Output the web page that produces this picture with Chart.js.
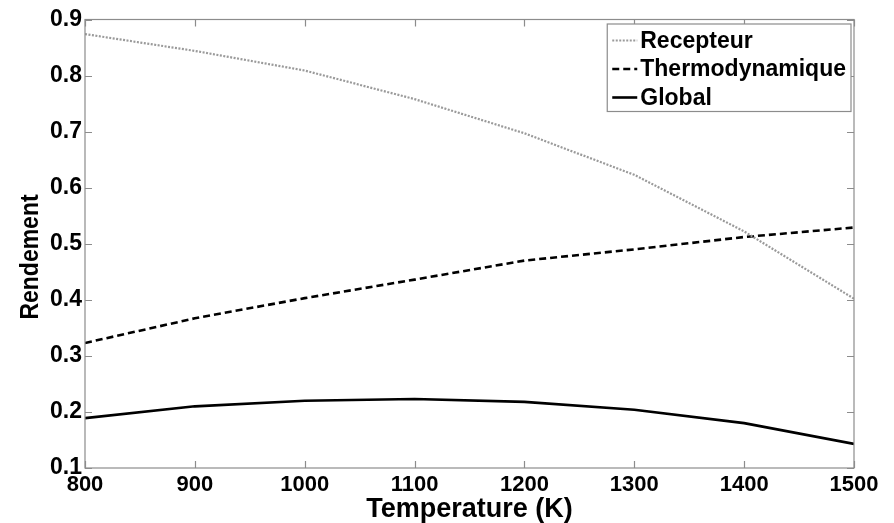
<!DOCTYPE html>
<html><head><meta charset="utf-8">
<script src="https://cdn.jsdelivr.net/npm/chart.js@4.4.0/dist/chart.umd.min.js"></script>
<style>html,body{margin:0;padding:0;background:#fff;} canvas{display:block;}</style>
</head><body>
<canvas id="c" width="894" height="523"></canvas>
<script>
// ---- data ----
const temperatures = [800, 900, 1000, 1100, 1200, 1300, 1400, 1500];
const recepteur = [0.874, 0.844, 0.809, 0.758, 0.697, 0.623, 0.522, 0.402];
const thermodynamique = [0.323, 0.367, 0.403, 0.436, 0.470, 0.490, 0.512, 0.529];
const globalEff = [0.189, 0.210, 0.220, 0.223, 0.218, 0.204, 0.180, 0.143];
const seriesLabels = ['Recepteur', 'Thermodynamique', 'Global'];
const xTickValues = [800, 900, 1000, 1100, 1200, 1300, 1400, 1500];
const yTickValues = [0.1, 0.2, 0.3, 0.4, 0.5, 0.6, 0.7, 0.8, 0.9];
const xTitle = 'Temperature (K)';
const yTitle = 'Rendement';

const toPts = arr => temperatures.map((t, i) => ({x: t, y: arr[i]}));
const FONT = 'Arial, "Liberation Sans", sans-serif';
const AXIS_GRAY = '#8c8c8c';

const frameAndTicks = {
  id: 'frameAndTicks',
  afterDatasetsDraw(chart) {
    const {ctx, chartArea: a, scales} = chart;
    ctx.save();
    ctx.strokeStyle = AXIS_GRAY;
    ctx.lineWidth = 1.2;
    ctx.strokeRect(a.left, a.top, a.right - a.left, a.bottom - a.top);
    const L = 7;
    ctx.beginPath();
    xTickValues.forEach(v => {
      const px = Math.round(scales.x.getPixelForValue(v)) + 0.5;
      ctx.moveTo(px, a.bottom); ctx.lineTo(px, a.bottom - L);
      ctx.moveTo(px, a.top); ctx.lineTo(px, a.top + L);
    });
    yTickValues.forEach(v => {
      const py = Math.round(scales.y.getPixelForValue(v)) + 0.5;
      ctx.moveTo(a.left, py); ctx.lineTo(a.left + L, py);
      ctx.moveTo(a.right, py); ctx.lineTo(a.right - L, py);
    });
    ctx.stroke();

    // legend box (inside plot, top-right)
    ctx.font = 'bold 23px ' + FONT;
    const maxW = Math.max(...seriesLabels.map(s => ctx.measureText(s).width));
    const boxRight = a.right - 3;
    const boxW = 33 + maxW + 5;
    const boxLeft = boxRight - boxW;
    const boxTop = a.top + 4.5;
    const rowH = 28.5;
    const boxH = 16 + rowH * 2 + 14.5;
    ctx.fillStyle = '#fff';
    ctx.fillRect(boxLeft, boxTop, boxW, boxH);
    ctx.strokeStyle = AXIS_GRAY;
    ctx.lineWidth = 1.2;
    ctx.strokeRect(boxLeft, boxTop, boxW, boxH);
    chart.data.datasets.forEach((ds, i) => {
      const y = boxTop + 16.5 + i * rowH;
      ctx.save();
      ctx.strokeStyle = ds.borderColor;
      ctx.lineWidth = ds.borderWidth;
      ctx.setLineDash(ds.borderDash || []);
      ctx.beginPath();
      ctx.moveTo(boxLeft + 5, y);
      ctx.lineTo(boxLeft + 30, y);
      ctx.stroke();
      ctx.restore();
      ctx.fillStyle = '#000';
      ctx.textBaseline = 'middle';
      ctx.textAlign = 'left';
      ctx.fillText(ds.label, boxLeft + 33, y + 1);
    });

    // y-axis title (rotated), slightly below the plot centre as in the reference
    ctx.save();
    ctx.translate(31, 257);
    ctx.rotate(-Math.PI / 2);
    ctx.scale(1, 1.15);
    ctx.font = 'bold 23px ' + FONT;
    ctx.fillStyle = '#000';
    ctx.textAlign = 'center';
    ctx.textBaseline = 'middle';
    ctx.fillText(yTitle, 0, 0);
    ctx.restore();
    ctx.restore();
  }
};

new Chart(document.getElementById('c'), {
  type: 'line',
  data: {
    datasets: [
      {label: seriesLabels[0], data: toPts(recepteur), borderColor: '#9a9a9a', borderWidth: 2.2, borderDash: [2, 1.5]},
      {label: seriesLabels[1], data: toPts(thermodynamique), borderColor: '#000', borderWidth: 2.6, borderDash: [7, 4]},
      {label: seriesLabels[2], data: toPts(globalEff), borderColor: '#000', borderWidth: 2.6}
    ]
  },
  options: {
    responsive: false,
    animation: false,
    layout: {padding: {top: 19.5, right: 40, left: 0, bottom: 0}},
    elements: {point: {radius: 0}, line: {tension: 0, fill: false}},
    plugins: {legend: {display: false}, tooltip: {enabled: false}},
    scales: {
      x: {
        type: 'linear', min: 800, max: 1500,
        afterBuildTicks: s => { s.ticks = xTickValues.map(v => ({value: v})); },
        afterFit: s => { s.height = 55; },
        grid: {display: false, drawTicks: false},
        border: {display: false},
        ticks: {padding: 4, color: '#000', font: {family: FONT, size: 22, weight: 'bold'}, maxRotation: 0, autoSkip: false, callback: v => String(v)},
        title: {display: true, text: xTitle, color: '#000', padding: {top: 0, bottom: -3}, font: {family: FONT, size: 27, weight: 'bold'}}
      },
      y: {
        type: 'linear', min: 0.1, max: 0.9,
        afterBuildTicks: s => { s.ticks = yTickValues.map(v => ({value: v})); },
        afterFit: s => { s.width = 85; },
        grid: {display: false, drawTicks: false},
        border: {display: false},
        ticks: {padding: 3, color: '#000', font: {family: FONT, size: 23, weight: 'bold'}, callback: v => v.toFixed(1)},
        title: {display: false}
      }
    }
  },
  plugins: [frameAndTicks]
});
</script>
</body></html>
